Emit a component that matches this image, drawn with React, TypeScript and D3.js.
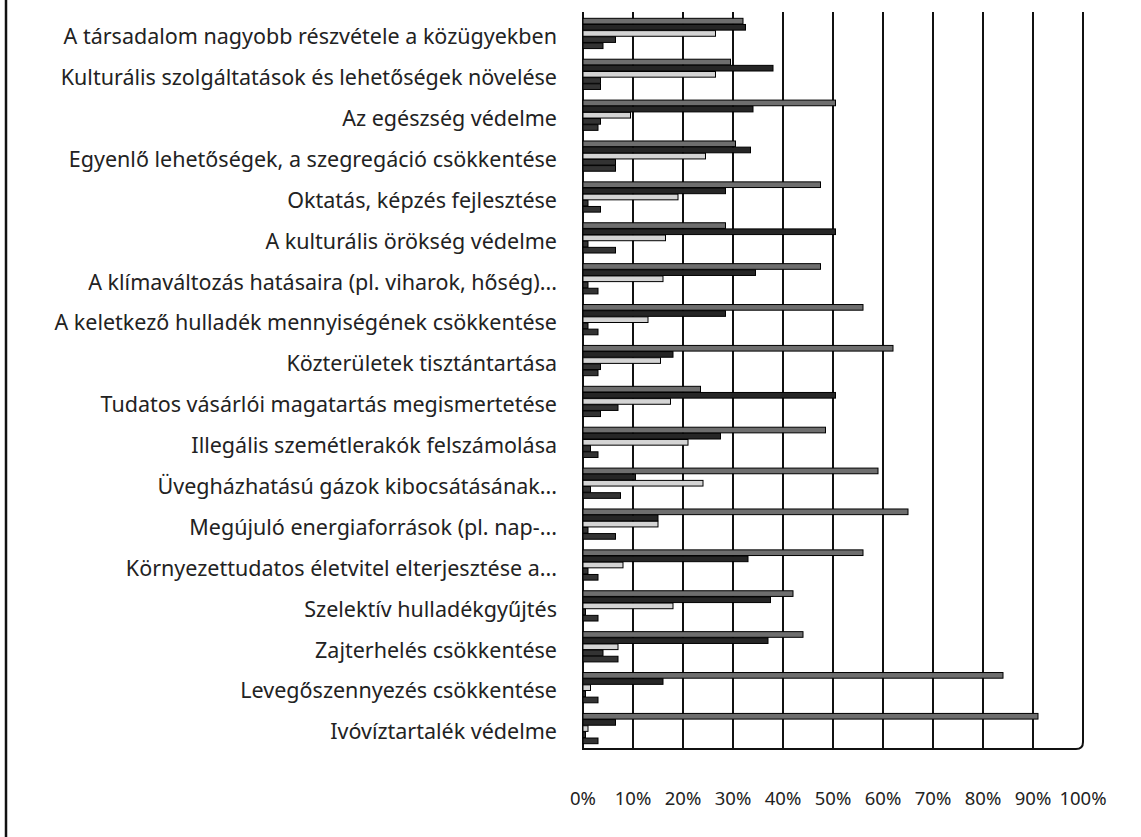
import React from 'react';
import * as d3 from 'd3';

const categories = [
  'A társadalom nagyobb részvétele a közügyekben',
  'Kulturális szolgáltatások és lehetőségek növelése',
  'Az egészség védelme',
  'Egyenlő lehetőségek, a szegregáció csökkentése',
  'Oktatás, képzés fejlesztése',
  'A kulturális örökség védelme',
  'A klímaváltozás hatásaira (pl. viharok, hőség)...',
  'A keletkező hulladék mennyiségének csökkentése',
  'Közterületek tisztántartása',
  'Tudatos vásárlói magatartás megismertetése',
  'Illegális szemétlerakók felszámolása',
  'Üvegházhatású gázok kibocsátásának...',
  'Megújuló energiaforrások (pl. nap-...',
  'Környezettudatos életvitel elterjesztése a...',
  'Szelektív hulladékgyűjtés',
  'Zajterhelés csökkentése',
  'Levegőszennyezés csökkentése',
  'Ivóvíztartalék védelme',
];

const seriesKeys = ['s1', 's2', 's3', 's4', 's5'];
const s1 = [32, 29.5, 50.5, 30.5, 47.5, 28.5, 47.5, 56, 62, 23.5, 48.5, 59, 65, 56, 42, 44, 84, 91];
const s2 = [32.5, 38, 34, 33.5, 28.5, 50.5, 34.5, 28.5, 18, 50.5, 27.5, 10.5, 15, 33, 37.5, 37, 16, 6.5];
const s3 = [26.5, 26.5, 9.5, 24.5, 19, 16.5, 16, 13, 15.5, 17.5, 21, 24, 15, 8, 18, 7, 1.5, 1];
const s4 = [6.5, 3.5, 3.5, 6.5, 1, 1, 1, 1, 3.5, 7, 1.5, 1.5, 1, 1, 0.5, 4, 0.5, 0.5];
const s5 = [4, 3.5, 3, 6.5, 3.5, 6.5, 3, 3, 3, 3.5, 3, 7.5, 6.5, 3, 3, 7, 3, 3];
const seriesValues = [s1, s2, s3, s4, s5];
const seriesFill = ['#6e6e6e', '#262626', '#d4d4d4', '#333333', '#333333'];

const xTicks = [0, 10, 20, 30, 40, 50, 60, 70, 80, 90, 100];
const xTickLabels = ['0%', '10%', '20%', '30%', '40%', '50%', '60%', '70%', '80%', '90%', '100%'];

export default function App() {
  const W = 1141;
  const H = 837;
  const x0 = 583;
  const x1 = 1083;
  const yTop = 12;
  const yBot = 749;
  const x = d3.scaleLinear().domain([0, 100]).range([x0, x1]);
  const y = d3
    .scaleBand<string>()
    .domain(categories)
    .range([yTop + 1, yBot])
    .paddingInner(0.26)
    .paddingOuter(0.13);
  const ys = d3.scaleBand<string>().domain(seriesKeys).range([0, y.bandwidth()]).paddingInner(0.08);
  const font = "'Noto Sans', 'Open Sans', sans-serif";
  const r = 7;
  const framePath = `M${x0},${yTop} V${yBot} H${x1 - r} Q${x1},${yBot} ${x1},${yBot - r} V${yTop}`;

  return (
    <svg
      width={W}
      height={H}
      style={{ position: 'absolute', left: 0, top: 0, background: '#fff' }}
      fontFamily={font}
    >
      <rect x={0} y={0} width={W} height={H} fill="#fff" />
      <line x1={6} x2={6} y1={0} y2={H} stroke="#111" strokeWidth={2.5} />
      {xTicks.slice(1, -1).map((t) => (
        <line key={t} x1={x(t)} x2={x(t)} y1={yTop} y2={yBot} stroke="#111" strokeWidth={2} />
      ))}
      <path d={framePath} fill="none" stroke="#111" strokeWidth={2} />
      {categories.map((c, i) => (
        <g key={c} transform={`translate(0,${y(c)})`}>
          {seriesValues.map((vals, k) => (
            <rect
              key={k}
              x={x(0)}
              y={ys(seriesKeys[k])}
              width={Math.max(0, x(vals[i]) - x(0))}
              height={ys.bandwidth()}
              fill={seriesFill[k]}
              stroke="#000"
              strokeWidth={1}
            />
          ))}
        </g>
      ))}
      {categories.map((c) => (
        <text
          key={c}
          x={557}
          y={(y(c) as number) + y.bandwidth() / 2 + 5}
          textAnchor="end"
          dominantBaseline="middle"
          fontSize={21.5}
          fill="#222"
        >
          {c}
        </text>
      ))}
      {xTicks.map((t, i) => (
        <text
          key={t}
          x={x(t)}
          y={800}
          textAnchor="middle"
          dominantBaseline="middle"
          fontSize={18.5}
          fill="#222"
        >
          {xTickLabels[i]}
        </text>
      ))}
    </svg>
  );
}
